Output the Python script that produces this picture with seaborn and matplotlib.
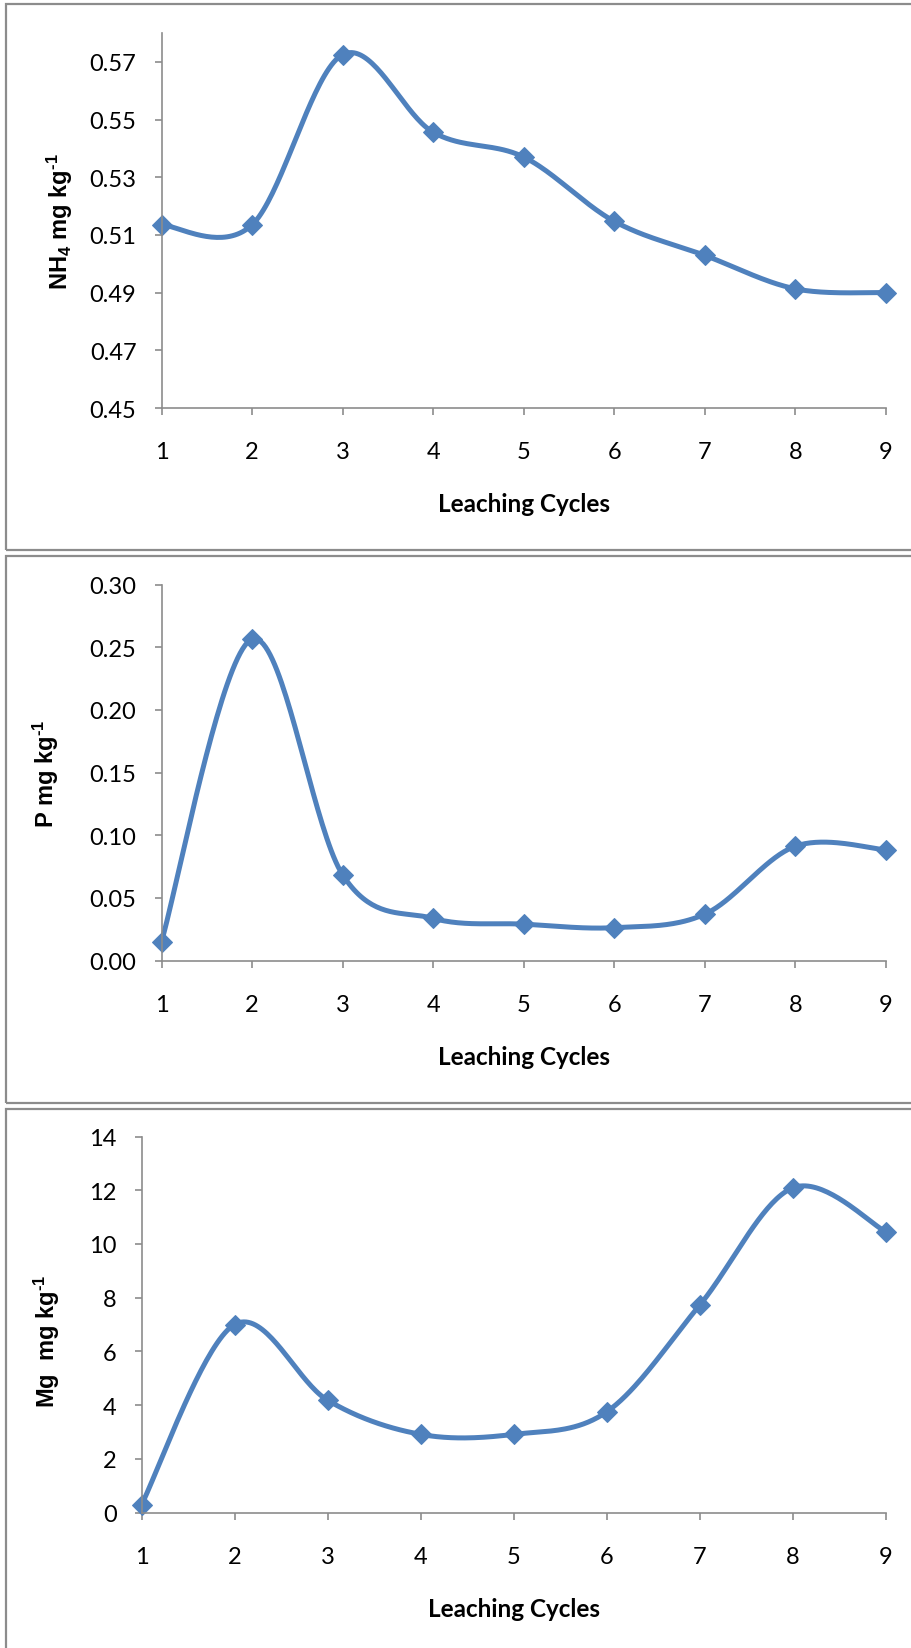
import numpy as np
import pandas as pd
import matplotlib
matplotlib.use("Agg")
import matplotlib.pyplot as plt
from matplotlib.patches import Rectangle
import seaborn as sns

# ---- data ----
cycles = [1, 2, 3, 4, 5, 6, 7, 8, 9]
nh4_values = [0.5135, 0.5135, 0.5725, 0.5456, 0.537, 0.5147, 0.5029, 0.4913, 0.4900]
p_values = [0.0151, 0.2564, 0.0684, 0.0336, 0.0290, 0.0262, 0.0370, 0.0912, 0.0883]
mg_values = [0.29, 7.0, 4.18, 2.91, 2.91, 3.75, 7.73, 12.09, 10.45]
nh4_ticks = [0.45, 0.47, 0.49, 0.51, 0.53, 0.55, 0.57]
p_ticks = [0.00, 0.05, 0.10, 0.15, 0.20, 0.25, 0.30]
mg_ticks = [0, 2, 4, 6, 8, 10, 12, 14]
x_label = "Leaching Cycles"
y_labels = ["NH$_4$ mg kg$^{\u20101}$", "P mg kg$^{\u20101}$", "Mg  mg kg$^{\u20101}$"]

sns.set_theme(style="white")
plt.rcParams["font.family"] = ["Lato", "DejaVu Sans"]
plt.rcParams["mathtext.default"] = "regular"

W, H = 911, 1649
fig = plt.figure(figsize=(W / 100, H / 100), dpi=100)

BLUE = "#4F81BD"
GRAY = "#8C8C8C"


def smooth(xs, ys, n=40):
    """Excel-style smoothed line (Catmull-Rom Bezier) through the data points."""
    P = np.column_stack([xs, ys]).astype(float)
    Pe = np.vstack([P[0], P, P[-1]])
    out = []
    for i in range(len(P) - 1):
        p0, p1, p2, p3 = Pe[i], Pe[i + 1], Pe[i + 2], Pe[i + 3]
        c1 = p1 + (p2 - p0) / 6.0
        c2 = p2 - (p3 - p1) / 6.0
        t = np.linspace(0, 1, n, endpoint=(i == len(P) - 2))[:, None]
        seg = (1 - t) ** 3 * p1 + 3 * (1 - t) ** 2 * t * c1 + 3 * (1 - t) * t ** 2 * c2 + t ** 3 * p2
        out.append(seg)
    return np.vstack(out)


def px_axes(left, right, top, bottom):
    return fig.add_axes([left / W, 1 - bottom / H, (right - left) / W, (bottom - top) / H])


# panel boxes
for (y0, y1) in [(5, 551), (557, 1104), (1110, 1660)]:
    fig.add_artist(Rectangle((6 / W, 1 - y1 / H), (920 - 6) / W, (y1 - y0) / H,
                             transform=fig.transFigure, fill=False,
                             edgecolor=GRAY, linewidth=1.6))

panels = [
    dict(pos=(161.5, 886, 34, 409), vals=nh4_values, ticks=nh4_ticks, ylim=(0.45, 0.58),
         fmt="{:.2f}", ylab=y_labels[0], ylx=-0.140, yly=0.5),
    dict(pos=(161.5, 886, 585.5, 961.5), vals=p_values, ticks=p_ticks, ylim=(0.0, 0.30),
         fmt="{:.2f}", ylab=y_labels[1], ylx=-0.159, yly=0.5),
    dict(pos=(141.5, 886, 1137.5, 1513.5), vals=mg_values, ticks=mg_ticks, ylim=(0, 14),
         fmt="{:d}", ylab=y_labels[2], ylx=-0.127, yly=0.457),
]

for p in panels:
    ax = px_axes(*p["pos"])
    curve = smooth(cycles, p["vals"])
    dfc = pd.DataFrame({"x": curve[:, 0], "y": curve[:, 1]})
    sns.lineplot(data=dfc, x="x", y="y", sort=False, estimator=None, ax=ax,
                 color=BLUE, linewidth=3.6, clip_on=False)
    dfp = pd.DataFrame({"x": cycles, "y": p["vals"]})
    sns.lineplot(data=dfp, x="x", y="y", ax=ax, linestyle="none", marker="D",
                 markersize=10.5, color=BLUE, markeredgecolor=BLUE, clip_on=False)
    ax.set_xlim(1, 9)
    ax.set_ylim(*p["ylim"])
    ax.set_xticks(cycles)
    ax.set_xticklabels([str(c) for c in cycles])
    ax.set_yticks(p["ticks"])
    ax.set_yticklabels([p["fmt"].format(t) for t in p["ticks"]])
    for s in ["top", "right"]:
        ax.spines[s].set_visible(False)
    for s in ["left", "bottom"]:
        ax.spines[s].set_color(GRAY)
        ax.spines[s].set_linewidth(1.2)
    ax.tick_params(axis="both", direction="out", length=5, width=1.2, color=GRAY,
                   labelsize=17, labelcolor="black")
    ax.tick_params(axis="x", pad=19, bottom=True)
    ax.tick_params(axis="y", pad=13, left=True)
    ax.set_xlabel(x_label, fontsize=17.5, fontweight="bold", color="black")
    ax.xaxis.set_label_coords(0.5, -0.256)
    ax.xaxis.label.set_va("center")
    ax.set_ylabel(p["ylab"], fontsize=17, fontweight="bold", color="black",
                  family=["Liberation Sans", "DejaVu Sans"])
    ax.yaxis.set_label_coords(p["ylx"], p["yly"])
    ax.yaxis.label.set_va("center")
    ax.set_facecolor("none")

fig.savefig("out.png", dpi=100, facecolor="white")
